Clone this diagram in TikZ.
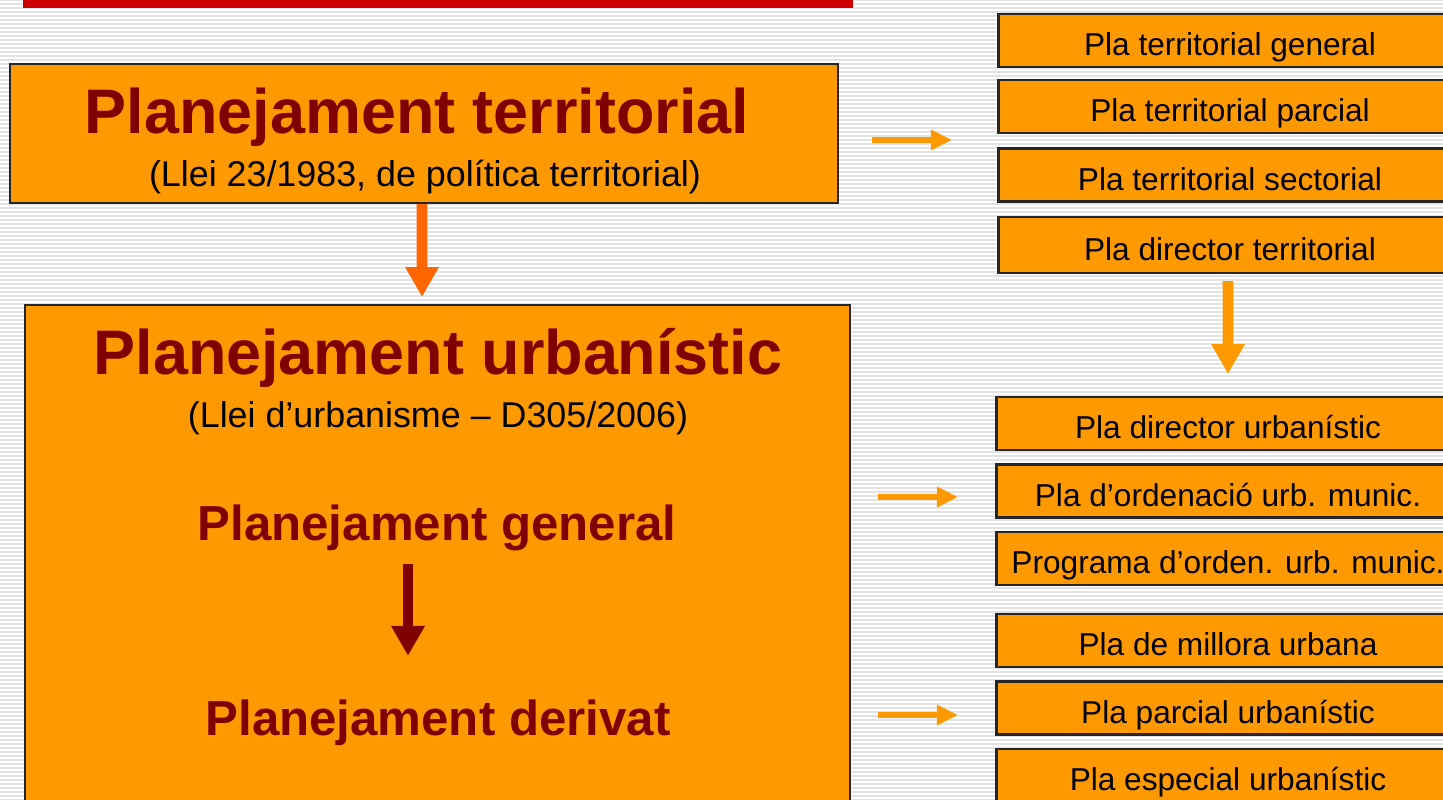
\documentclass[tikz,border=0pt]{standalone}
\usepackage{fontspec}
\setmainfont{Liberation Sans}
\usetikzlibrary{arrows.meta, positioning}
\definecolor{plaorange}{RGB}{255,153,0}
\definecolor{arrowred}{RGB}{255,102,0}
\definecolor{titlered}{RGB}{128,0,0}
\definecolor{barred}{RGB}{204,0,0}

\begin{document}
\begin{tikzpicture}[
    bigbox/.style={draw=black!85,fill=plaorange,line width=0.6pt},
    plabox/.style={draw=black!85,fill=plaorange,line width=0.6pt,
                   minimum width=4.63cm,minimum height=0.53cm,inner sep=0pt,
                   text height=1.65ex,text depth=0pt,
                   font=\fontsize{9}{10}\selectfont},
    maintitle/.style={font=\fontsize{17.9}{20}\selectfont\bfseries,text=titlered,inner sep=1pt},
    subtitle/.style={font=\fontsize{10.2}{12}\selectfont,inner sep=1pt},
    levelname/.style={font=\fontsize{14}{16}\selectfont\bfseries,text=titlered,inner sep=1pt},
    stripe/.style={gray!22,line width=0.6pt},
    darr/.style={-{Triangle[length=8.5pt,width=9pt]},line width=3pt},
    larr/.style={-{Triangle[length=6pt,width=5.5pt]},line width=1.7pt,plaorange}
]
  \clip (0,0) rectangle (14.43,8);
  % striped background
  \fill[white] (0,0) rectangle (14.43,8);
  \foreach \i in {0,...,200}
    \draw[stripe] (0,\i*0.04) -- (14.43,\i*0.04);

  % red bar on top
  \fill[barred] (0.23,7.92) rectangle (8.53,8.05);

  % Territorial planning
  \node[bigbox,minimum width=8.28cm,minimum height=1.39cm] (terr) at (4.24,6.665) {};
  \node[maintitle] (terrtitle) at (4.17,6.83) {Planejament territorial};
  \node[subtitle] (terrlaw) at (4.25,6.23) {(Llei 23/1983, de política territorial)};

  % Urban planning
  \node[bigbox,minimum width=8.25cm,minimum height=5.15cm] (urb) at (4.375,2.375) {};
  \node[maintitle] (urbtitle) at (4.38,4.42) {Planejament urbanístic};
  \node[subtitle] (urblaw) at (4.38,3.82) {(Llei d’urbanisme – D305/2006)};
  \node[levelname] (gen) at (4.37,2.72) {Planejament general};
  \node[levelname] (der) at (4.38,0.77) {Planejament derivat};

  % territorial plans
  \node[plabox] (ptg) at (12.3,7.595) {Pla territorial general};
  \node[plabox] (ptp) at (12.3,6.935) {Pla territorial parcial};
  \node[plabox] (pts) at (12.3,6.25) {Pla territorial sectorial};
  \node[plabox,minimum height=0.56cm] (pdt) at (12.3,5.55) {Pla director territorial};

  % general urban plans
  \node[plabox] (pdu) at (12.28,3.765) {Pla director urbanístic};
  \node[plabox] (pou) at (12.28,3.09) {Pla d’ordenació urb. munic.};
  \node[plabox] (prg) at (12.28,2.415) {Programa d’orden. urb. munic.};

  % derived urban plans
  \node[plabox] (pmu) at (12.28,1.595) {Pla de millora urbana};
  \node[plabox] (ppu) at (12.28,0.92) {Pla parcial urbanístic};
  \node[plabox] (peu) at (12.28,0.245) {Pla especial urbanístic};

  % free arrow ends
  \coordinate (a1s) at (8.72,6.60);
  \coordinate (a1e) at (9.52,6.60);
  \coordinate (a2s) at (8.78,3.03);
  \coordinate (a2e) at (9.58,3.03);
  \coordinate (a3s) at (8.78,0.85);
  \coordinate (a3e) at (9.58,0.85);

  % Arrows
  \draw[darr,arrowred,shorten >=0.07cm] ([xshift=-0.02cm]terr.south) -- ([xshift=-0.155cm]urb.north);
  \draw[darr,titlered,shorten <=0.09cm,shorten >=0.4cm] ([xshift=-0.29cm]gen.south) -- ([xshift=-0.3cm]der.north);
  \draw[darr,plaorange,shorten <=0.07cm,shorten >=0.22cm] ([xshift=-0.02cm]pdt.south) -- (pdu.north);
  \draw[larr] (a1s) -- (a1e);
  \draw[larr] (a2s) -- (a2e);
  \draw[larr] (a3s) -- (a3e);
\end{tikzpicture}
\end{document}
